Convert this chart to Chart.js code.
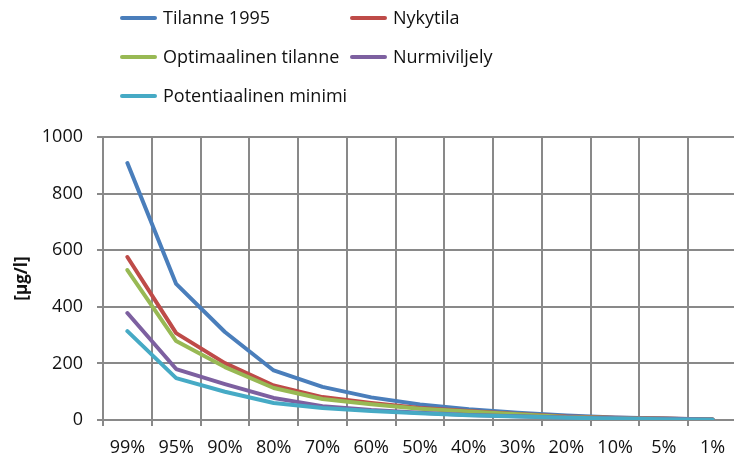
<!DOCTYPE html>
<html>
<head>
<meta charset="utf-8">
<script src="https://cdn.jsdelivr.net/npm/chart.js@4.4.0/dist/chart.umd.min.js"></script>
<style>
  body { margin: 0; background: #fff; overflow: hidden; width: 734px; height: 462px; }
  #wrap { position: absolute; left: 0; top: 0; width: 760px; height: 462px; }
  #legend { position: absolute; left: 0; top: 0; width: 734px; height: 120px; font-family: "Open Sans", sans-serif; font-size: 18px; color: #111; }
  .item { position: absolute; height: 22px; line-height: 22px; white-space: nowrap; }
  .swatch { position: absolute; left: 0; top: 9px; width: 37px; height: 4px; border-radius: 2px; }
  .label { position: absolute; left: 43px; top: -1px; }
</style>
</head>
<body>
<div id="wrap"><canvas id="chart" width="760" height="462"></canvas></div>
<div id="legend"></div>
<script>
// categories (exceedance percentiles)
var categories = ["99%", "95%", "90%", "80%", "70%", "60%", "50%", "40%", "30%", "20%", "10%", "5%", "1%"];

var seriesNames = ["Tilanne 1995", "Nykytila", "Optimaalinen tilanne", "Nurmiviljely", "Potentiaalinen minimi"];
var seriesColors = ["#4a7ebb", "#be4b48", "#98b954", "#7d60a0", "#46aac5"];

var tilanne1995 = [908, 481, 311, 175, 117, 80, 55, 38, 26, 16, 9, 5, 2];
var nykytila = [576, 307, 201, 122, 81, 60, 42, 32, 21, 12, 8, 5, 2];
var optimaalinen = [530, 279, 187, 113, 74, 56, 40, 30, 20, 11, 7, 4, 2];
var nurmiviljely = [378, 180, 127, 78, 49, 35, 26, 18, 13, 9, 6, 4, 2];
var minimi = [314, 148, 100, 60, 42, 32, 24, 17, 12, 8, 5, 3, 1];

var yTicks = [0, 200, 400, 600, 800, 1000];

var allSeries = [tilanne1995, nykytila, optimaalinen, nurmiviljely, minimi];

var gridColor = "#898989";
var fontFam = '"Open Sans", sans-serif';

var datasets = allSeries.map(function(vals, i) {
    return {
        label: seriesNames[i],
        data: vals,
        borderColor: seriesColors[i],
        backgroundColor: seriesColors[i],
        borderWidth: 4,
        pointRadius: 0,
        tension: 0,
        borderCapStyle: "round",
        borderJoinStyle: "round",
        order: allSeries.length - i   // later series drawn on top, like Excel
    };
});

var chart = new Chart(document.getElementById("chart"), {
    type: "line",
    data: { labels: categories, datasets: datasets },
    options: {
        responsive: false,
        animation: false,
        devicePixelRatio: 1,
        layout: { padding: { top: 137, right: 23, bottom: 0, left: 0 } },
        plugins: { legend: { display: false }, tooltip: { enabled: false } },
        scales: {
            x: {
                offset: true,
                grid: { offset: true, color: gridColor, lineWidth: 2, tickLength: 6 },
                border: { color: gridColor, width: 2 },
                ticks: { color: "#111", font: { family: fontFam, size: 18 }, padding: 11, autoSkip: false, maxRotation: 0 },
                afterFit: function(scale) { scale.height = 42; }
            },
            y: {
                min: 0,
                max: 1000,
                afterBuildTicks: function(scale) {
                    scale.ticks = yTicks.map(function(v) { return { value: v }; });
                },
                grid: { color: gridColor, lineWidth: 2, tickLength: 6 },
                border: { color: gridColor, width: 2 },
                ticks: {
                    color: "#111",
                    font: { family: fontFam, size: 18 },
                    padding: 14,
                    callback: function(v) { return String(v); }
                },
                title: {
                    display: true,
                    text: "[µg/l]",
                    color: "#111",
                    font: { family: fontFam, size: 17, weight: "bold" },
                    padding: { top: 12, bottom: 0 }
                },
                afterFit: function(scale) { scale.width = 103; }
            }
        }
    }
});

// legend in two columns, like the original
var legendPos = [[120, 7], [350, 7], [120, 46], [350, 46], [120, 85]];
var legend = document.getElementById("legend");
chart.data.datasets.forEach(function(ds, i) {
    var item = document.createElement("div");
    item.className = "item";
    item.style.left = legendPos[i][0] + "px";
    item.style.top = legendPos[i][1] + "px";
    var sw = document.createElement("span");
    sw.className = "swatch";
    sw.style.background = ds.borderColor;
    var lb = document.createElement("span");
    lb.className = "label";
    lb.textContent = ds.label;
    item.appendChild(sw);
    item.appendChild(lb);
    legend.appendChild(item);
});
</script>
</body>
</html>
